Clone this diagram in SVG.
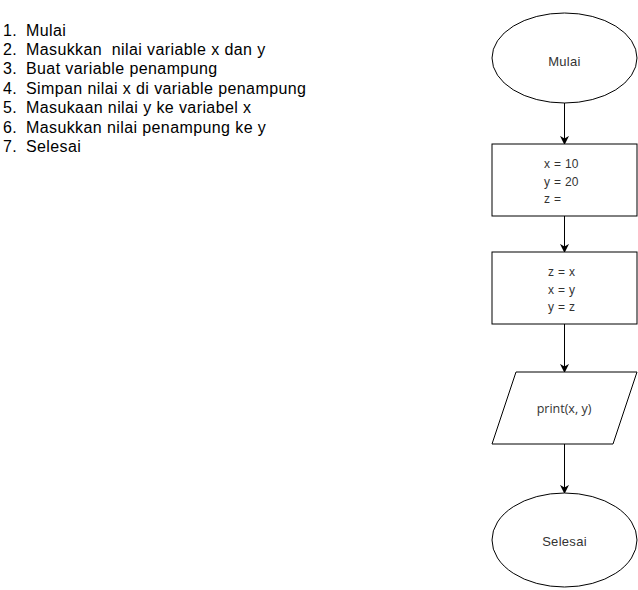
<svg xmlns="http://www.w3.org/2000/svg" width="638" height="590" viewBox="0 0 638 590">
<defs>
<style>
.shape{fill:#ffffff;stroke:#000000;stroke-width:1}
.lbl{font-family:"Liberation Sans",Arial,sans-serif;font-size:12px;fill:#333333;letter-spacing:0.3px}
.term{font-family:"Liberation Sans",Arial,sans-serif;font-size:13px;fill:#333333;letter-spacing:0.3px}
.lbl2{font-family:"Open Sans","Liberation Sans",Arial,sans-serif;font-size:12.5px;fill:#333333}
.list{font-family:"Liberation Sans",Arial,sans-serif;font-size:16px;fill:#000000;letter-spacing:0.4px}
.edge{stroke:#000000;stroke-width:1;fill:none;marker-end:url(#arr)}
</style>
<marker id="arr" viewBox="0 0 10 10" refX="9" refY="5" markerWidth="9" markerHeight="9" markerUnits="userSpaceOnUse" orient="auto">
<path d="M0,0 L10,5 L0,10 L3,5 Z" fill="#000000"/>
</marker>
</defs>
<rect width="638" height="590" fill="#ffffff"/>
<g id="steps" class="list">
<text x="3" y="36">1.</text><text x="26" y="36">Mulai</text>
<text x="3" y="55">2.</text><text x="26" y="55" xml:space="preserve">Masukkan  nilai variable x dan y</text>
<text x="3" y="74">3.</text><text x="26" y="74">Buat variable penampung</text>
<text x="3" y="93.5">4.</text><text x="26" y="93.5">Simpan nilai x di variable penampung</text>
<text x="3" y="113">5.</text><text x="26" y="113">Masukaan nilai y ke variabel x</text>
<text x="3" y="132.5">6.</text><text x="26" y="132.5">Masukkan nilai penampung ke y</text>
<text x="3" y="152">7.</text><text x="26" y="152">Selesai</text>
</g>
<g id="connectors">
<line class="edge" x1="564.5" y1="103" x2="564.5" y2="144"/>
<line class="edge" x1="564.5" y1="216" x2="564.5" y2="252"/>
<line class="edge" x1="564.5" y1="324" x2="564.5" y2="372"/>
<line class="edge" x1="564.5" y1="444" x2="564.5" y2="493"/>
</g>
<g id="mulai">
<ellipse class="shape" cx="564.5" cy="58" rx="72.5" ry="45"/>
<text class="term" x="564.5" y="66" text-anchor="middle">Mulai</text>
</g>
<g id="init">
<rect class="shape" x="492" y="144" width="145" height="72"/>
<text class="lbl" x="544" y="168">x = 10</text>
<text class="lbl" x="544" y="186">y = 20</text>
<text class="lbl" x="544" y="203">z =</text>
</g>
<g id="swap">
<rect class="shape" x="492" y="252" width="145" height="72"/>
<text class="lbl" x="548" y="276">z = x</text>
<text class="lbl" x="548" y="294">x = y</text>
<text class="lbl" x="548" y="311">y = z</text>
</g>
<g id="print">
<polygon class="shape" points="516,372 637,372 613,444 492,444"/>
<text class="lbl2" x="564" y="413" text-anchor="middle">print(x, y)</text>
</g>
<g id="selesai">
<ellipse class="shape" cx="564.5" cy="540" rx="72.5" ry="47"/>
<text class="term" x="564.5" y="546" text-anchor="middle">Selesai</text>
</g>
</svg>
